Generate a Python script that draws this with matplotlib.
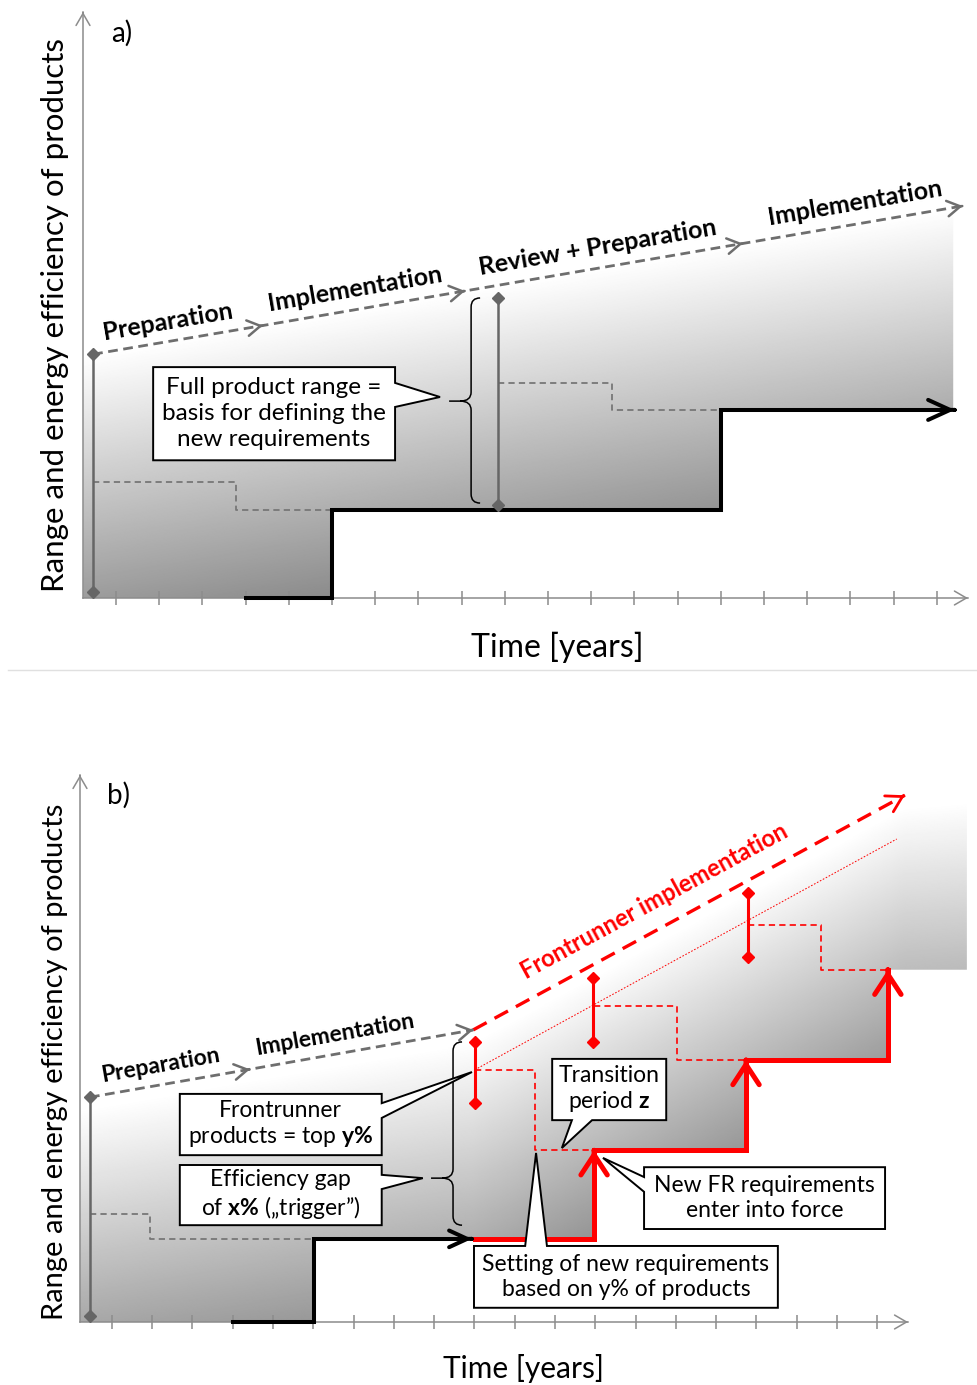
import numpy as np
import matplotlib
matplotlib.use("Agg")
import matplotlib.pyplot as plt
from matplotlib.patches import Polygon, PathPatch, FancyArrowPatch
from matplotlib.path import Path

plt.rcParams['font.family'] = ['Lato', 'DejaVu Sans']
plt.rcParams['mathtext.fontset'] = 'custom'
plt.rcParams['mathtext.rm'] = 'Lato'
plt.rcParams['mathtext.bf'] = 'Lato:bold'
plt.rcParams['lines.scale_dashes'] = False

RED = '#ff0000'
GREY = '#6e6e6e'
AXIS = '#8c8c8c'

# ---------------- panel a) data (x = years, y = efficiency, axis 0..100)
a_ticks = np.arange(1, 21)
a_phase_x = [0.47, 4.40, 9.08, 15.51, 20.60]
a_phase_y = [41.6, 46.5, 52.4, 60.5, 66.9]
a_phase_labels = ['Preparation', 'Implementation', 'Review + Preparation', 'Implementation']
a_label_x = [2.20, 6.53, 12.16, 18.11]
a_label_y = [47.1, 52.7, 59.9, 67.4]
a_req_x = [4.0, 6.0, 6.0, 15.0, 15.0, 20.42]
a_req_y = [0, 0, 15.0, 15.0, 32.1, 32.1]
a_old1_x = [0.47, 3.78, 3.78, 6.0]
a_old1_y = [19.8, 19.8, 15.0, 15.0]
a_old2_x = [9.84, 12.48, 12.48, 15.0]
a_old2_y = [36.7, 36.7, 32.1, 32.1]
a_bar_x = [0.47, 9.84]
a_bar_lo = [1.0, 15.9]
a_bar_hi = [41.6, 51.2]
a_fill_x = [0.24, 6.0, 6.0, 15.0, 15.0, 20.38, 20.38, 0.24]
a_fill_y = [0, 0, 15.0, 15.0, 32.1, 32.1, 66.6, 41.3]

# ---------------- panel b) data
b_ticks = np.arange(1, 21)
b_phase_x = [0.46, 4.43, 9.97]
b_phase_y = [41.1, 46.2, 53.4]
b_phase_labels = ['Preparation', 'Implementation']
b_label_x = [2.20, 6.54]
b_label_y = [47.0, 52.5]
b_fr_x = [9.97, 20.68]
b_fr_y = [53.4, 96.3]
b_dot_x = [10.01, 20.48]
b_dot_y = [46.1, 88.3]
b_req_x = [4.01, 6.02, 6.02, 9.94]
b_req_y = [0, 0, 15.2, 15.2]
b_frreq_x = [10.01, 12.97, 12.97, 16.74, 16.74, 20.26, 20.26]
b_frreq_y = [15.2, 15.2, 31.4, 31.4, 47.9, 47.9, 64.4]
b_old_x = [0.46, 1.95, 1.95, 6.02]
b_old_y = [19.7, 19.7, 15.2, 15.2]
b_frold_x = [[10.01, 11.50, 11.50, 12.97], [12.97, 15.03, 15.03, 16.74], [16.78, 18.60, 18.60, 20.26]]
b_frold_y = [[46.1, 46.1, 31.4, 31.4], [57.8, 57.8, 47.9, 47.9], [72.6, 72.6, 64.4, 64.4]]
b_rbar_x = [10.01, 12.95, 16.78]
b_rbar_lo = [40.0, 51.2, 66.7]
b_rbar_hi = [51.2, 62.9, 78.4]
b_fill_x = [0.21, 6.02, 6.02, 12.97, 12.97, 16.74, 16.74, 20.26, 20.26, 22.22, 22.22, 20.68, 9.97, 0.46, 0.21]
b_fill_y = [0, 0, 15.2, 15.2, 31.4, 31.4, 47.9, 47.9, 64.4, 64.4, 97.3, 96.3, 53.4, 41.1, 41.0]

W, H = 977, 1385
fig = plt.figure(figsize=(W / 100, H / 100), dpi=100)


def make_axes(top_px, bot_px, tick1_px, step_px, base_px, unit_px):
    ax = fig.add_axes([0, 1 - bot_px / H, 1, (bot_px - top_px) / H])
    ax.set_xlim(1 - tick1_px / step_px, 1 + (W - tick1_px) / step_px)
    ax.set_ylim((base_px - bot_px) / unit_px, (base_px - top_px) / unit_px)
    ax.axis('off')
    return ax


def head(ax, x0, y0, x1, y1, color, lw, hl, hw, z=5):
    # open arrow head at (x1, y1), pointing away from (x0, y0)
    xa, ya = x1 - 0.002 * (x1 - x0), y1 - 0.002 * (y1 - y0)
    ax.add_patch(FancyArrowPatch((xa, ya), (x1, y1),
                                 arrowstyle=f'->,head_length={hl},head_width={hw}',
                                 mutation_scale=10, color=color, lw=lw,
                                 shrinkA=0, shrinkB=0, zorder=z))


def shade(ax, px, py, top_x, top_y, unit_px, k=0.0016, d0=0.0):
    x0, x1 = ax.get_xlim()
    y0, y1 = ax.get_ylim()
    X, Y = np.meshgrid(np.linspace(x0, x1, 900), np.linspace(y0, y1, 700))
    d = (np.interp(X, top_x, top_y) - Y) * unit_px
    g = np.clip(1 - k * (d - d0), 0, 1)
    im = ax.imshow(g, extent=[x0, x1, y0, y1], origin='lower', cmap='gray',
                   vmin=0, vmax=1, aspect='auto', interpolation='bilinear', zorder=1)
    patch = Polygon(np.column_stack([px, py]), closed=True, fc='none', ec='none')
    ax.add_patch(patch)
    im.set_clip_path(patch)
    ax.set_xlim(x0, x1)
    ax.set_ylim(y0, y1)


def axes_lines(ax, x0, xend, ytop, ticks):
    ax.plot([x0, xend], [0, 0], color=AXIS, lw=1.1, zorder=2)
    ax.plot([x0, x0], [0, ytop], color=AXIS, lw=1.1, zorder=2)
    head(ax, x0, 0, xend, 0, AXIS, 1.1, 0.86, 0.5, z=2)
    head(ax, x0, 0, x0, ytop, AXIS, 1.1, 0.86, 0.5, z=2)
    ax.plot(ticks, np.zeros(len(ticks)), ls='none', marker='|', ms=9.5, mew=1.1,
            color=AXIS, zorder=2)


def brace(ax, x, ylo, yhi, ytip, sx, sy, lw=1.1):
    r, ry, tip = 9 / sx, 9 / sy, 22 / sx
    verts = [(x + r, yhi), (x, yhi), (x, yhi - ry), (x, ytip + ry), (x, ytip), (x - r * 1.2, ytip),
             (x - tip, ytip),
             (x - r * 1.2, ytip), (x, ytip), (x, ytip - ry), (x, ylo + ry), (x, ylo), (x + r, ylo)]
    codes = [Path.MOVETO, Path.CURVE3, Path.CURVE3, Path.LINETO, Path.CURVE3, Path.CURVE3,
             Path.LINETO,
             Path.MOVETO, Path.CURVE3, Path.CURVE3, Path.LINETO, Path.CURVE3, Path.CURVE3]
    ax.add_patch(PathPatch(Path(verts, codes), fc='none', ec='black', lw=lw, zorder=6))


def callout(ax, box, side, base, tip, text, fs=16.5, ls=1.2, z=8):
    x0, x1, y0, y1 = box
    b0, b1 = base
    if side == 'right':
        pts = [(x0, y1), (x1, y1), (x1, b0), tip, (x1, b1), (x1, y0), (x0, y0)]
    elif side == 'left':
        pts = [(x0, y1), (x1, y1), (x1, y0), (x0, y0), (x0, b1), tip, (x0, b0)]
    elif side == 'top':
        pts = [(x0, y1), (b0, y1), tip, (b1, y1), (x1, y1), (x1, y0), (x0, y0)]
    else:
        pts = [(x0, y1), (x1, y1), (x1, y0), (b1, y0), tip, (b0, y0), (x0, y0)]
    ax.add_patch(Polygon(pts, closed=True, fc='white', ec='black', lw=1.4,
                         joinstyle='miter', zorder=z))
    ax.text((x0 + x1) / 2, (y0 + y1) / 2, text, ha='center', va='center', fontsize=fs,
            linespacing=ls, zorder=z + 1)


def bars(ax, xs, lo, hi, color, lw, ms):
    for x, l, h in zip(xs, lo, hi):
        ax.plot([x, x], [l, h], color=color, lw=lw, marker='D', ms=ms, zorder=4)


def phase_labels(ax, px, py, lx, ly, labels, color='black', fs=18):
    slope = (py[-1] - py[0]) / (px[-1] - px[0])
    for x, y, s in zip(lx, ly, labels):
        ax.text(x, y, s, ha='center', va='center', fontsize=fs, fontweight='bold', color=color,
                rotation=np.degrees(np.arctan(slope)), rotation_mode='anchor',
                transform_rotates_text=True, zorder=7)


# ================= panel a)
SXa, SYa = 43.2, 5.86
axa = make_axes(0, 668, 116, SXa, 598, SYa)
shade(axa, a_fill_x, a_fill_y, [a_fill_x[-1], a_fill_x[-3]], [a_fill_y[-1], a_fill_y[-2]], SYa)
axes_lines(axa, 0.236, 20.72, 100, a_ticks)

axa.plot(a_phase_x, a_phase_y, color=GREY, lw=2.0, dashes=(7, 4), zorder=3)
for i in range(1, len(a_phase_x)):
    head(axa, a_phase_x[i - 1], a_phase_y[i - 1], a_phase_x[i], a_phase_y[i], GREY, 1.8, 0.94, 0.56)
phase_labels(axa, a_phase_x, a_phase_y, a_label_x, a_label_y, a_phase_labels)

for ox, oy in [(a_old1_x, a_old1_y), (a_old2_x, a_old2_y)]:
    axa.plot(ox, oy, color='#777777', lw=1.3, dashes=(4.5, 3), zorder=3)
axa.plot(a_req_x[:-1] + [a_req_x[-1] - 0.2], a_req_y, color='black', lw=2.9, zorder=4,
         solid_joinstyle='miter')
head(axa, a_req_x[-2], a_req_y[-2], a_req_x[-1], a_req_y[-1], 'black', 2.9, 1.58, 0.72)
bars(axa, a_bar_x, a_bar_lo, a_bar_hi, '#666666', 1.8, 6)
brace(axa, 9.22, 16.2, 51.2, 33.6, SXa, SYa)
callout(axa, (1.86, 7.46, 23.5, 39.4), 'right', (36.7, 32.6), (8.5, 34.3),
        'Full product range =\nbasis for defining the\nnew requirements', fs=17.5, ls=1.3)

axa.text(1.14, 96.4, 'a)', ha='center', va='center', fontsize=20)
axa.text(-0.41, 48.3, 'Range and energy efficiency of products', rotation=90,
         ha='center', va='center', fontsize=22.5)
axa.text(11.21, -8.36, 'Time [years]', ha='center', va='center', fontsize=23)

fig.add_artist(plt.Line2D([8 / W, 1], [1 - 670 / H] * 2, transform=fig.transFigure,
                          color='#e0e0e0', lw=1))

# ================= panel b)
SXb, SYb = 40.3, 5.47
axb = make_axes(668, H, 111.7, SXb, 1322, SYb)
shade(axb, b_fill_x, b_fill_y, [0.21, b_phase_x[-1], b_fr_x[-1], 22.22],
      [41.0, b_phase_y[-1], b_fr_y[-1], 97.3], SYb, d0=12)
axes_lines(axb, 0.213, 20.76, 100, b_ticks)

axb.plot(b_phase_x, b_phase_y, color=GREY, lw=2.0, dashes=(7, 4), zorder=3)
for i in range(1, len(b_phase_x)):
    head(axb, b_phase_x[i - 1], b_phase_y[i - 1], b_phase_x[i], b_phase_y[i], GREY, 1.8, 0.94, 0.56)
phase_labels(axb, b_phase_x, b_phase_y, b_label_x, b_label_y, b_phase_labels, fs=16.5)

axb.plot(b_fr_x, b_fr_y, color=RED, lw=2.4, dashes=(11, 6.5), zorder=4)
head(axb, b_fr_x[0], b_fr_y[0], b_fr_x[1], b_fr_y[1], RED, 2.0, 1.1, 0.65)
phase_labels(axb, b_fr_x, b_fr_y, [14.46], [77.0], ['Frontrunner implementation'],
             color=RED, fs=17)
axb.plot(b_dot_x, b_dot_y, color=RED, lw=0.7, dashes=(1.2, 1.2), zorder=3)

axb.plot(b_old_x, b_old_y, color='#777777', lw=1.3, dashes=(4.5, 3), zorder=3)
for ox, oy in zip(b_frold_x, b_frold_y):
    axb.plot(ox, oy, color=RED, lw=1.2, dashes=(4.5, 3), zorder=3)

axb.plot(b_req_x[:-1] + [b_req_x[-1] - 0.2], b_req_y, color='black', lw=2.9, zorder=4,
         solid_joinstyle='miter')
head(axb, b_req_x[-2], b_req_y[-2], b_req_x[-1], b_req_y[-1], 'black', 2.9, 1.3, 0.6)
axb.plot(b_frreq_x, b_frreq_y, color=RED, lw=3.6, zorder=4, solid_joinstyle='miter')
for i in (2, 4, 6):
    head(axb, b_frreq_x[i - 1], b_frreq_y[i - 1], b_frreq_x[i], b_frreq_y[i], RED, 3.6, 1.45, 0.95)

bars(axb, [0.46], [1.1], [41.1], '#666666', 1.8, 6)
bars(axb, b_rbar_x, b_rbar_lo, b_rbar_hi, RED, 2.2, 6.5)
brace(axb, 9.47, 17.7, 51.2, 26.3, SXb, SYb)

callout(axb, (2.69, 7.70, 30.5, 41.7), 'right', (40.0, 37.3), (9.94, 45.7),
        'Frontrunner\nproducts = top $\\mathbf{y\\%}$')
callout(axb, (2.69, 7.70, 17.7, 28.7), 'right', (26.9, 24.3), (8.72, 26.3),
        'Efficiency gap\nof $\\mathbf{x\\%}$ (\u201etrigger\u201d)')
callout(axb, (11.93, 14.76, 36.9, 48.1), 'bottom', (12.42, 12.92), (12.17, 31.8),
        'Transition\nperiod $\\mathbf{z}$')
callout(axb, (14.21, 20.19, 17.0, 28.3), 'left', (26.5, 23.8), (13.19, 30.0),
        'New FR requirements\nenter into force')
callout(axb, (9.99, 17.53, 2.6, 13.9), 'top', (11.26, 11.80), (11.53, 30.9),
        'Setting of new requirements\nbased on y% of products')

axb.text(1.18, 96.3, 'b)', ha='center', va='center', fontsize=20)
axb.text(-0.41, 47.5, 'Range and energy efficiency of products', rotation=90,
         ha='center', va='center', fontsize=21)
axb.text(11.21, -8.41, 'Time [years]', ha='center', va='center', fontsize=21.5)

fig.savefig('out.png', dpi=100)
